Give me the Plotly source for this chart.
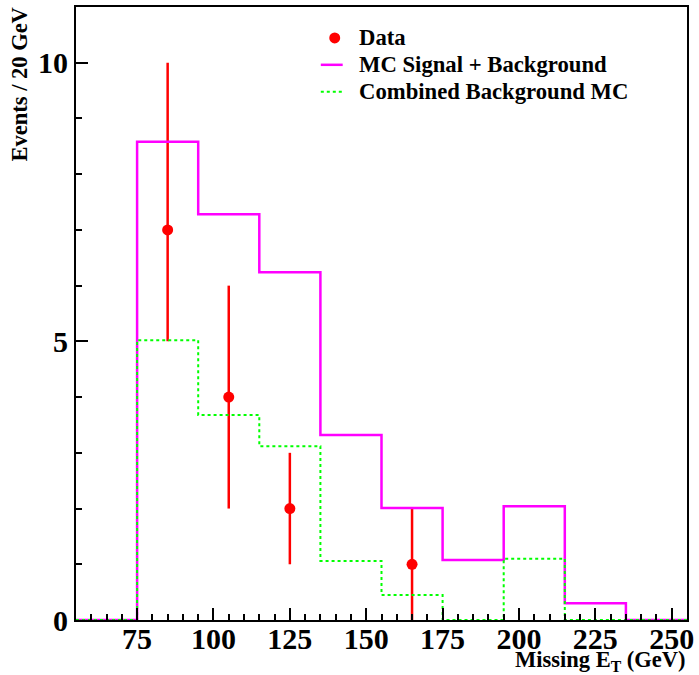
import plotly.graph_objects as go

# bin edges (GeV) and contents
edges = [55, 75, 95, 115, 135, 155, 175, 195, 215, 235, 255]
mc_sig_bkg = [0, 8.58, 7.28, 6.24, 3.32, 2.01, 1.075, 2.04, 0.30, 0]
bkg_mc = [0, 5.02, 3.68, 3.12, 1.06, 0.45, 0, 1.10, 0, 0]

data_x = [85, 105, 125, 165]
data_y = [7, 4, 2, 1]
data_err_lo = [2, 2, 1, 1]
data_err_hi = [3, 2, 1, 1]

legend_labels = ["Data", "MC Signal + Background", "Combined Background MC"]

FONT = "Liberation Serif"
RED, MAGENTA, GREEN = "#ff0000", "#ff00ff", "#00ff00"

# plot-area geometry in pixels (for legend placement)
L, R, T, B = 76, 9, 5, 55
W, H = 699, 675
PW, PH = W - L - R, H - T - B


def px(xp):
    return (xp - L) / PW


def py(yp):
    return (H - B - yp) / PH


fig = go.Figure()

fig.add_trace(go.Scatter(
    x=data_x, y=data_y, mode="markers", name=legend_labels[0],
    marker=dict(color=RED, size=11, symbol="circle"),
    error_y=dict(type="data", array=data_err_hi, arrayminus=data_err_lo,
                 color=RED, thickness=2.5, width=0),
))
fig.add_trace(go.Scatter(
    x=edges, y=mc_sig_bkg + [mc_sig_bkg[-1]], mode="lines", line_shape="hv",
    name=legend_labels[1],
    line=dict(color=MAGENTA, width=2.5),
))
fig.add_trace(go.Scatter(
    x=edges, y=bkg_mc + [bkg_mc[-1]], mode="lines", line_shape="hv",
    name=legend_labels[2],
    line=dict(color=GREEN, width=2, dash="dot"),
))

fig.update_layout(
    width=W, height=H,
    margin=dict(l=L, r=R, t=T, b=B),
    plot_bgcolor="white", paper_bgcolor="white",
    font=dict(family=FONT, size=20, color="black", weight="bold"),
    showlegend=False,
)

fig.update_xaxes(
    range=[55, 255], showgrid=False, zeroline=False,
    showline=True, linecolor="black", linewidth=2, mirror=True,
    ticks="inside", ticklen=12, tickwidth=2, tickcolor="black",
    tick0=0, dtick=25, ticklabelstandoff=-9,
    minor=dict(ticks="inside", ticklen=6, dtick=5, tick0=0, tickwidth=2, tickcolor="black"),
    tickfont=dict(family=FONT, size=30, weight="bold"),
)
fig.update_yaxes(
    range=[0, 11], showgrid=False, zeroline=False,
    showline=True, linecolor="black", linewidth=2, mirror=True,
    ticks="inside", ticklen=12, tickwidth=2, tickcolor="black",
    tick0=0, dtick=5,
    minor=dict(ticks="inside", ticklen=6, dtick=1, tick0=0, tickwidth=2, tickcolor="black"),
    tickfont=dict(family=FONT, size=30, weight="bold"),
)

# axis titles
fig.add_annotation(
    text="Missing E<sub>T</sub> (GeV)", xref="paper", yref="paper",
    x=1.0, y=0, yshift=-26, xanchor="right", yanchor="top", showarrow=False,
    borderpad=0, font=dict(family=FONT, size=22.5, weight="bold"),
)
fig.add_annotation(
    text="Events / 20 GeV", xref="paper", yref="paper",
    x=0, y=1.0, yshift=1, xshift=-72, xanchor="left", yanchor="top", textangle=-90,
    showarrow=False, font=dict(family=FONT, size=22.5, weight="bold"),
)

# legend (drawn manually to match row spacing)
rows_y = [36, 63, 90]
text_x = 358
for lab, yy in zip(legend_labels, rows_y):
    fig.add_annotation(
        text=lab, xref="paper", yref="paper", x=px(text_x), y=py(yy),
        xanchor="left", yanchor="middle", showarrow=False,
        font=dict(family=FONT, size=22.7, weight="bold"),
    )
r = 5.5
fig.add_shape(type="circle", xref="paper", yref="paper",
              x0=px(336 - r), x1=px(336 + r), y0=py(rows_y[0] + r), y1=py(rows_y[0] - r),
              fillcolor=RED, line=dict(color=RED, width=0))
fig.add_shape(type="line", xref="paper", yref="paper",
              x0=px(322), x1=px(344), y0=py(rows_y[1]), y1=py(rows_y[1]),
              line=dict(color=MAGENTA, width=2.5))
fig.add_shape(type="line", xref="paper", yref="paper",
              x0=px(322), x1=px(344), y0=py(rows_y[2]), y1=py(rows_y[2]),
              line=dict(color=GREEN, width=2, dash="dot"))

fig.write_html("out.html")
